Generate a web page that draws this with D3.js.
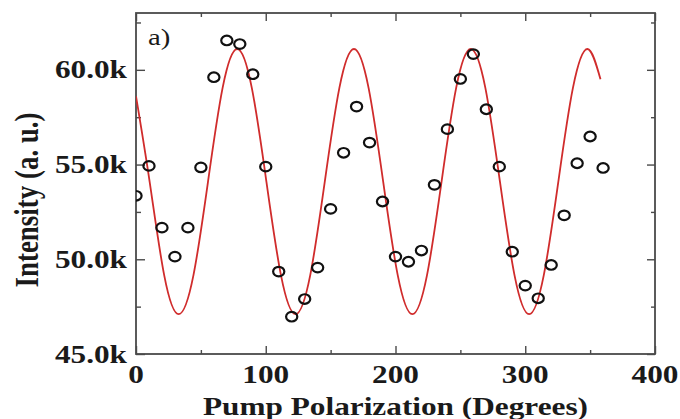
<!doctype html>
<html lang="en">
<head>
<meta charset="utf-8">
<title>Pump polarization</title>
<script src="https://d3js.org/d3.v7.min.js"></script>
<style>
  body { margin: 0; background: #fff; }
  text { font-family: "Liberation Serif", "Times New Roman", serif; }
</style>
</head>
<body>
<div id="chart"></div>
<script>

// measured points (pump polarization in degrees, intensity in a.u.)
var angles = [0, 10, 20, 30, 40, 50, 60, 70, 80, 90, 100, 110, 120, 130, 140, 150, 160, 170, 180,
              190, 200, 210, 220, 230, 240, 250, 260, 270, 280, 290, 300, 310, 320, 330, 340, 350, 360];
var intensity = [53350, 54930, 51670, 50140, 51670, 54850, 59610, 61550, 61360, 59770, 54890, 49350,
                 46970, 47900, 49560, 52660, 55620, 58060, 56160, 53050, 50140, 49870, 50460, 53930,
                 56870, 59520, 60830, 57920, 54890, 50400, 48610, 47940, 49700, 52320, 55070, 56480, 54820];

// fit curve, read at peaks, troughs and the points between
var fitAngles = [0, 10.5, 21.75, 33, 44.25, 55.5, 66.75, 78, 89.25, 100.5, 111.75, 123, 134.25,
                 145.5, 156.75, 168, 179.25, 190.5, 201.75, 213, 224.25, 235.5, 246.75, 258, 269.25,
                 280.5, 291.75, 303, 314.25, 325.5, 336.75, 348, 358];
var fitIntensity = [58600, 54100, 49150, 47100, 49150, 54100, 59050, 61100, 59050, 54100, 49150, 47100, 49150,
                    54100, 59050, 61100, 59050, 54100, 49150, 47100, 49150, 54100, 59050, 61100, 59050,
                    54100, 49150, 47100, 49150, 54100, 59050, 61100, 59500];

var xTicks = [0, 100, 200, 300, 400];
var xMinorTicks = [50, 150, 250, 350];
var yTicks = [45000, 50000, 55000, 60000];
var yMinorTicks = [47500, 52500, 57500, 62500];

var width = 680;
var height = 419;
var margin = {top: 13, right: 25, bottom: 65, left: 136};
var plotW = width - margin.left - margin.right;
var plotH = height - margin.top - margin.bottom;

// the glyphs in the picture are stretched sideways
var stretch = 1.25;
var axisColor = "#4a4a4a";

var svg = d3.select("#chart").append("svg")
    .attr("width", width)
    .attr("height", height);

var x = d3.scaleLinear().domain([0, 400]).range([0, plotW]);
var y = d3.scaleLinear().domain([45000, 63000]).range([plotH, 0]);

var g = svg.append("g")
    .attr("transform", "translate(" + margin.left + "," + margin.top + ")");

svg.append("defs").append("clipPath")
    .attr("id", "plotClip")
  .append("rect")
    .attr("width", plotW)
    .attr("height", plotH);

//inward ticks on all four sides
function drawTicks(axis, values, size, transform) {
    var a = g.append("g")
        .attr("transform", transform)
        .call(axis.tickValues(values).tickSize(-size).tickSizeOuter(0).tickFormat(""));
    a.select(".domain").remove();
    a.selectAll("line").attr("stroke", axisColor).attr("stroke-width", 1.4);
}
drawTicks(d3.axisBottom(x), xTicks, 8, "translate(0," + plotH + ")");
drawTicks(d3.axisBottom(x), xMinorTicks, 4, "translate(0," + plotH + ")");
drawTicks(d3.axisTop(x), xTicks, 8, "translate(0,0)");
drawTicks(d3.axisTop(x), xMinorTicks, 4, "translate(0,0)");
drawTicks(d3.axisLeft(y), yTicks, 9, "translate(0,0)");
drawTicks(d3.axisLeft(y), yMinorTicks, 5, "translate(0,0)");
drawTicks(d3.axisRight(y), yTicks, 8, "translate(" + plotW + ",0)");
drawTicks(d3.axisRight(y), yMinorTicks, 4, "translate(" + plotW + ",0)");

//frame
g.append("rect")
    .attr("width", plotW)
    .attr("height", plotH)
    .attr("fill", "none")
    .attr("stroke", axisColor)
    .attr("stroke-width", 1.8);

//fit curve
var line = d3.line()
    .x(function(d, i) { return x(fitAngles[i]); })
    .y(function(d) { return y(d); })
    .curve(d3.curveNatural);

g.append("path")
    .datum(fitIntensity)
    .attr("clip-path", "url(#plotClip)")
    .attr("d", line)
    .attr("fill", "none")
    .attr("stroke", "#d02c2c")
    .attr("stroke-width", 1.8);

//data points as open circles
g.append("g")
    .attr("clip-path", "url(#plotClip)")
  .selectAll("ellipse")
    .data(intensity)
  .enter().append("ellipse")
    .attr("cx", function(d, i) { return x(angles[i]); })
    .attr("cy", function(d) { return y(d); })
    .attr("rx", 5.6)
    .attr("ry", 4.8)
    .attr("fill", "none")
    .attr("stroke", "#111")
    .attr("stroke-width", 2.2);

//tick labels
var fmt = function(v) { return d3.format(".1f")(v / 1000) + "k"; };

g.selectAll(".xlab")
    .data(xTicks)
  .enter().append("g")
    .attr("transform", function(d) { return "translate(" + x(d) + "," + (plotH + 29) + ")"; })
  .append("text")
    .attr("transform", "scale(" + stretch + ",1)")
    .attr("text-anchor", "middle")
    .attr("font-size", 25)
    .attr("font-weight", "bold")
    .attr("fill", "#1a1a1a")
    .text(function(d) { return d; });

g.selectAll(".ylab")
    .data(yTicks)
  .enter().append("g")
    .attr("transform", function(d) { return "translate(-9," + (y(d) + 8.5) + ")"; })
  .append("text")
    .attr("transform", "scale(" + stretch + ",1)")
    .attr("text-anchor", "end")
    .attr("font-size", 25)
    .attr("font-weight", "bold")
    .attr("fill", "#1a1a1a")
    .text(fmt);

//axis titles
svg.append("text")
    .attr("x", margin.left + plotW / 2)
    .attr("y", 415)
    .attr("text-anchor", "middle")
    .attr("font-size", 25)
    .attr("font-weight", "bold")
    .attr("fill", "#1a1a1a")
    .attr("textLength", 385)
    .attr("lengthAdjust", "spacingAndGlyphs")
    .text("Pump Polarization (Degrees)");

svg.append("g")
    .attr("transform", "translate(38," + 200 + ") scale(" + stretch + ",1)")
  .append("text")
    .attr("transform", "rotate(-90)")
    .attr("text-anchor", "middle")
    .attr("font-size", 27)
    .attr("font-weight", "bold")
    .attr("fill", "#1a1a1a")
    .attr("textLength", 175)
    .attr("lengthAdjust", "spacingAndGlyphs")
    .text("Intensity (a. u.)");

//panel label
svg.append("g")
    .attr("transform", "translate(148,45) scale(" + stretch + ",1)")
  .append("text")
    .attr("font-size", 23)
    .attr("fill", "#1a1a1a")
    .text("a)");

</script>
</body>
</html>
